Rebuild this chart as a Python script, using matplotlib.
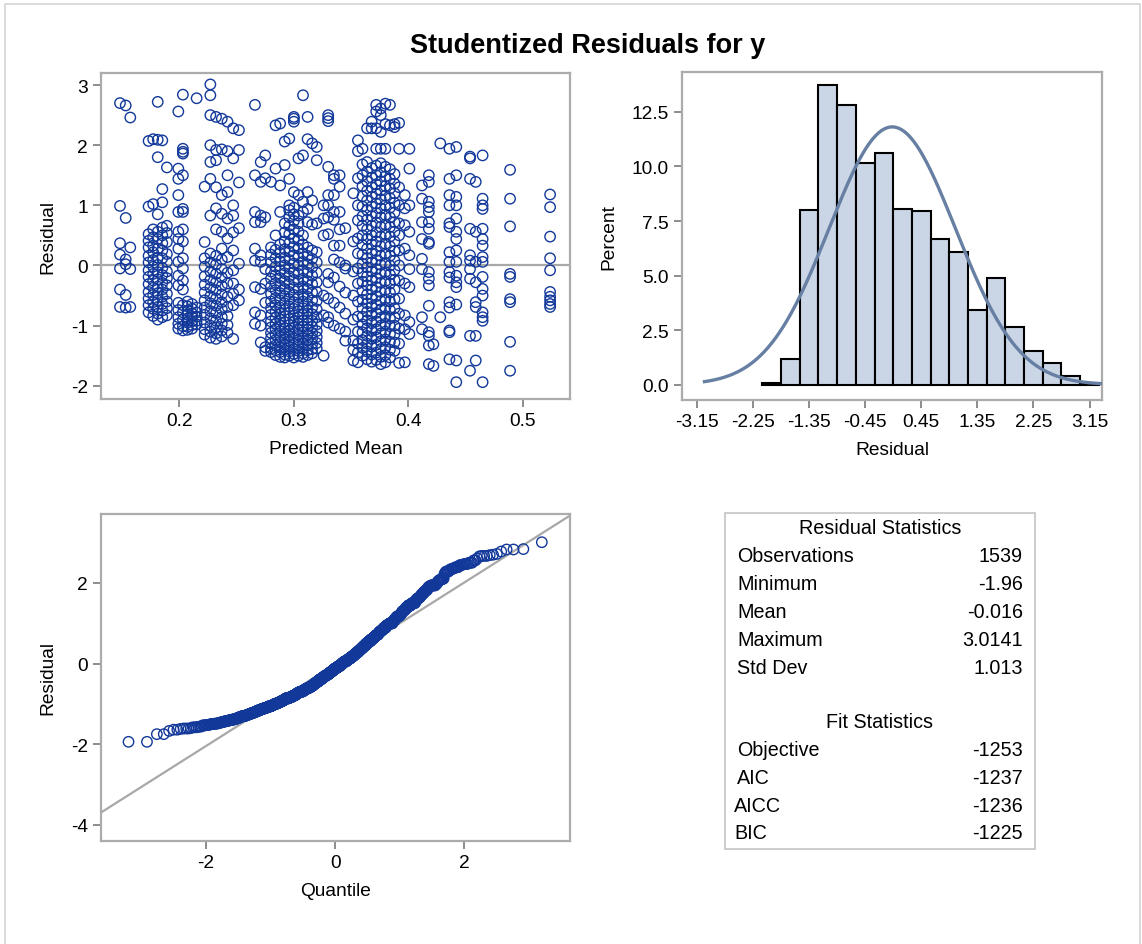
import numpy as np
import matplotlib
matplotlib.use("Agg")
import matplotlib.pyplot as plt
from matplotlib.patches import Rectangle
from matplotlib.lines import Line2D
from statistics import NormalDist

plt.rcParams['font.family'] = ['Liberation Sans', 'DejaVu Sans']
plt.rcParams['axes.unicode_minus'] = False

# --- scatter: predicted mean columns and the studentized residuals read in each
col_x = [0.148, 0.153, 0.157,
         0.173, 0.177, 0.181, 0.185, 0.189,
         0.199, 0.203, 0.207, 0.211, 0.215,
         0.222, 0.227, 0.232, 0.237, 0.242, 0.247, 0.252,
         0.266, 0.271, 0.275,
         0.280, 0.284, 0.288, 0.292, 0.296, 0.300, 0.304, 0.308, 0.312, 0.316, 0.320,
         0.326, 0.330, 0.335, 0.340, 0.345,
         0.352, 0.356, 0.360, 0.364, 0.368, 0.372, 0.376, 0.380, 0.384, 0.388, 0.392,
         0.397, 0.401, 0.412, 0.418, 0.422,
         0.428, 0.436, 0.442, 0.454, 0.459, 0.465, 0.489, 0.524]
col_y = [
    [2.70, 0.99, 0.37, 0.18, -0.05, -0.40, -0.69],
    [2.66, 0.79, 0.10, 0.02, -0.49, -0.70],
    [2.46, 0.30, -0.06, -0.69],
    [2.07, 0.98, 0.52, 0.41, 0.30, 0.16, 0.05, -0.08, -0.19, -0.31, -0.44, -0.55, -0.66, -0.78],
    [2.10, 1.02, 0.60, 0.47, 0.33, 0.22, 0.09, -0.02, -0.14, -0.25, -0.37, -0.49, -0.61, -0.72, -0.84],
    [2.72, 2.09, 1.80, 0.85, 0.56, 0.44, 0.28, 0.13, 0.01, -0.11, -0.23, -0.35, -0.46, -0.58, -0.69, -0.80, -0.90],
    [2.08, 1.27, 1.05, 0.63, 0.50, 0.37, 0.25, 0.12, -0.04, -0.16, -0.29, -0.40, -0.52, -0.64, -0.75, -0.86],
    [1.63, 0.66, 0.54, 0.39, 0.19, 0.06, -0.10, -0.21, -0.33, -0.47, -0.60, -0.71, -0.83],
    [2.56, 1.61, 1.44, 1.17, 0.89, 0.56, 0.44, 0.28, 0.06, -0.17, -0.33, -0.62, -0.74, -0.86, -0.97, -1.05],
    [2.84, 1.94, 1.89, 1.86, 1.50, 0.94, 0.89, 0.60, 0.40, 0.12, -0.05, -0.25, -0.40, -0.66, -0.78, -0.90, -1.01, -1.08],
    [-0.60, -0.68, -0.75, -0.82, -0.88, -0.95, -1.02, -1.07],
    [-0.64, -0.72, -0.80, -0.86, -0.93, -0.99, -1.05],
    [2.78, -0.70, -0.78, -0.85, -0.92, -0.98],
    [1.31, 0.39, 0.12, -0.02, -0.18, -0.32, -0.45, -0.58, -0.70, -0.82, -0.95, -1.06, -1.15],
    [3.01, 2.83, 2.50, 2.00, 1.72, 1.44, 0.83, 0.20, 0.05, -0.10, -0.24, -0.37, -0.51, -0.63, -0.76, -0.88, -1.00, -1.10, -1.20],
    [2.47, 1.92, 1.75, 1.30, 0.95, 0.60, 0.16, 0.02, -0.14, -0.28, -0.41, -0.55, -0.67, -0.79, -0.92, -1.03, -1.13, -1.22],
    [2.44, 1.93, 1.17, 0.86, 0.56, 0.28, 0.10, -0.06, -0.20, -0.34, -0.48, -0.61, -0.73, -0.86, -0.97, -1.08, -1.18],
    [2.39, 1.90, 1.50, 1.22, 0.78, 0.45, 0.14, -0.12, -0.30, -0.52, -0.69, -0.84, -0.99, -1.12],
    [2.28, 1.78, 1.00, 0.83, 0.55, 0.25, -0.08, -0.30, -0.47, -0.66, -1.22],
    [2.25, 1.92, 1.38, 0.62, 0.03, -0.40, -0.58],
    [2.67, 1.50, 0.89, 0.72, 0.28, 0.08, -0.36, -0.78, -0.97],
    [1.72, 1.39, 0.83, 0.72, 0.17, 0.06, -0.39, -0.83, -1.00, -1.28],
    [1.83, 1.45, 0.80, -0.06, -0.30, -0.62, -1.36, -1.42],
    [1.39, 0.30, 0.18, 0.05, -0.10, -0.22, -0.35, -0.47, -0.60, -0.71, -0.82, -0.93, -1.03, -1.12, -1.21, -1.30, -1.38, -1.44],
    [2.33, 1.61, 0.50, 0.26, 0.12, -0.02, -0.16, -0.29, -0.41, -0.54, -0.66, -0.77, -0.87, -0.97, -1.06, -1.15, -1.24, -1.33, -1.41, -1.49],
    [2.36, 1.33, 0.89, 0.35, 0.21, 0.07, -0.08, -0.21, -0.34, -0.46, -0.58, -0.70, -0.80, -0.90, -1.00, -1.09, -1.18, -1.27, -1.36, -1.44, -1.52],
    [2.06, 1.67, 0.70, 0.55, 0.40, 0.27, 0.13, 0.00, -0.13, -0.26, -0.39, -0.51, -0.63, -0.74, -0.84, -0.94, -1.04, -1.13, -1.22, -1.31, -1.40, -1.48, -1.53],
    [2.11, 1.44, 1.00, 0.92, 0.80, 0.66, 0.52, 0.37, 0.23, 0.09, -0.05, -0.18, -0.31, -0.44, -0.56, -0.68, -0.79, -0.89, -0.99, -1.08, -1.17, -1.26, -1.35, -1.43, -1.50],
    [2.47, 2.44, 2.39, 1.22, 0.96, 0.85, 0.74, 0.60, 0.45, 0.31, 0.17, 0.03, -0.11, -0.24, -0.37, -0.49, -0.61, -0.72, -0.83, -0.93, -1.03, -1.12, -1.21, -1.30, -1.39, -1.47, -1.53],
    [1.78, 1.17, 0.83, 0.70, 0.56, 0.42, 0.28, 0.14, 0.00, -0.14, -0.27, -0.40, -0.53, -0.65, -0.76, -0.86, -0.96, -1.06, -1.15, -1.24, -1.33, -1.42, -1.50],
    [2.83, 1.83, 1.06, 0.89, 0.50, 0.35, 0.20, 0.06, -0.08, -0.22, -0.35, -0.48, -0.60, -0.71, -0.82, -0.92, -1.02, -1.11, -1.20, -1.29, -1.38, -1.46, -1.52],
    [2.47, 2.10, 1.22, 0.94, 0.72, 0.30, 0.16, 0.02, -0.12, -0.26, -0.39, -0.52, -0.64, -0.75, -0.86, -0.96, -1.06, -1.15, -1.24, -1.33, -1.41, -1.49],
    [2.03, 1.08, 0.68, 0.25, 0.11, -0.03, -0.17, -0.31, -0.45, -0.58, -0.70, -0.81, -0.92, -1.02, -1.12, -1.21, -1.30, -1.39, -1.46],
    [1.97, 1.75, 0.70, 0.22, 0.05, -0.12, -0.28, -0.44, -0.59, -0.73, -0.86, -0.98, -1.09, -1.19, -1.29, -1.38],
    [1.00, 0.78, 0.50, -0.50, -0.83, -1.50],
    [2.50, 2.45, 2.40, 1.64, 1.17, 1.00, 0.80, 0.52, -0.14, -0.28, -0.55, -0.86, -0.95],
    [1.50, 1.44, 1.17, 0.89, 0.76, 0.33, 0.10, -0.20, -0.62, -1.00],
    [1.50, 1.31, 0.89, 0.60, 0.33, 0.05, -0.35, -0.70, -1.05],
    [0.62, 0.00, -0.05, -0.45, -0.80, -1.10, -1.25],
    [1.20, 0.40, -0.10, -0.50, -0.90, -1.25, -1.40, -1.58],
    [2.08, 1.90, 1.45, 1.00, 0.75, 0.45, 0.20, -0.05, -0.30, -0.60, -0.85, -1.10, -1.30, -1.45, -1.61],
    [1.94, 1.68, 1.50, 1.32, 1.15, 0.98, 0.82, 0.66, 0.50, 0.34, 0.18, 0.03, -0.12, -0.27, -0.42, -0.57, -0.71, -0.85, -0.98, -1.11, -1.24, -1.37, -1.50],
    [2.28, 1.72, 1.56, 1.40, 1.24, 1.08, 0.92, 0.76, 0.60, 0.44, 0.28, 0.12, -0.03, -0.18, -0.33, -0.48, -0.63, -0.77, -0.91, -1.04, -1.17, -1.30, -1.43, -1.56],
    [2.39, 2.28, 1.62, 1.46, 1.30, 1.14, 0.98, 0.82, 0.66, 0.50, 0.35, 0.20, 0.05, -0.10, -0.25, -0.40, -0.55, -0.69, -0.83, -0.96, -1.09, -1.22, -1.35, -1.48, -1.60],
    [2.67, 2.56, 2.28, 1.94, 1.66, 1.50, 1.35, 1.19, 1.03, 0.87, 0.71, 0.55, 0.40, 0.24, 0.09, -0.06, -0.21, -0.36, -0.51, -0.65, -0.79, -0.93, -1.06, -1.19, -1.32, -1.45, -1.57],
    [2.61, 2.50, 2.22, 1.94, 1.70, 1.55, 1.40, 1.25, 1.10, 0.95, 0.80, 0.64, 0.48, 0.32, 0.16, 0.01, -0.14, -0.29, -0.44, -0.59, -0.73, -0.87, -1.00, -1.13, -1.26, -1.39, -1.52, -1.64],
    [2.69, 2.35, 1.94, 1.64, 1.48, 1.32, 1.16, 1.00, 0.84, 0.68, 0.52, 0.36, 0.20, 0.04, -0.11, -0.26, -0.41, -0.56, -0.70, -0.84, -0.97, -1.10, -1.23, -1.36, -1.49, -1.61],
    [2.67, 2.33, 1.60, 1.44, 1.28, 1.12, 0.96, 0.80, 0.64, 0.48, 0.32, 0.16, 0.00, -0.15, -0.30, -0.45, -0.60, -0.74, -0.88, -1.01, -1.14, -1.27, -1.40, -1.53],
    [2.35, 2.30, 1.52, 1.36, 1.20, 1.04, 0.88, 0.72, 0.56, 0.40, 0.24, 0.08, -0.08, -0.24, -0.40, -0.56, -0.71, -0.86, -1.00, -1.14, -1.28, -1.42],
    [2.37, 1.94, 1.30, 1.00, 0.70, 0.50, 0.25, 0.00, -0.25, -0.55, -0.80, -1.05, -1.30, -1.62],
    [1.17, 0.95, 0.67, 0.28, -0.30, -0.83, -1.06, -1.61],
    [1.94, 1.61, 1.00, 0.56, 0.17, -0.06, -0.36, -0.94, -1.14],
    [1.33, 1.11, 0.72, 0.44, 0.11, -0.06, -0.86, -1.06],
    [1.50, 1.39, 1.06, 0.97, 0.89, 0.72, 0.61, 0.39, 0.36, -0.11, -0.22, -0.33, -0.67, -1.11, -1.17, -1.33, -1.64],
    [-1.31, -1.67],
    [2.03, -0.86],
    [1.94, 1.44, 1.17, 1.00, 0.70, 0.64, 0.22, 0.06, -0.11, -0.20, -0.61, -0.70, -1.08, -1.11, -1.56],
    [1.97, 1.50, 1.14, 1.00, 0.78, 0.56, 0.44, 0.25, 0.06, -0.17, -0.28, -0.36, -0.65, -1.58, -1.94],
    [1.81, 1.78, 1.44, 0.61, 0.17, 0.08, -0.06, -0.22, -1.17, -1.75],
    [1.39, 0.56, 0.06, -0.28, -0.61, -0.69, -1.17, -1.58],
    [1.83, 1.11, 1.00, 0.94, 0.61, 0.44, 0.33, 0.14, 0.06, -0.19, -0.39, -0.50, -0.78, -0.86, -0.92, -1.94],
    [1.59, 1.11, 0.65, -0.14, -0.19, -0.56, -0.61, -1.27, -1.75],
    [1.18, 0.97, 0.48, 0.12, -0.08, -0.44, -0.52, -0.58, -0.64, -0.69],
]

# --- histogram of residuals (percent per bin, bin width 0.3)
bin_mid = [-1.95, -1.65, -1.35, -1.05, -0.75, -0.45, -0.15, 0.15, 0.45,
           0.75, 1.05, 1.35, 1.65, 1.95, 2.25, 2.55, 2.85, 3.15]
bin_pct = [0.065, 1.18, 8.01, 13.75, 12.8, 10.15, 10.6, 8.06, 7.95,
           6.68, 6.07, 3.42, 4.89, 2.66, 1.53, 1.01, 0.38, 0.065]
hist_ticks = [-3.15, -2.25, -1.35, -0.45, 0.45, 1.35, 2.25, 3.15]

# --- summary tables
res_labels = ["Observations", "Minimum", "Mean", "Maximum", "Std Dev"]
res_values = ["1539", "-1.96", "-0.016", "3.0141", "1.013"]
fit_labels = ["Objective", "AIC", "AICC", "BIC"]
fit_values = ["-1253", "-1237", "-1236", "-1225"]
res_mean = -0.016
res_sd = 1.013

W, H = 1142, 945
MARK = '#12389a'
FRAME = '#acacac'


def px(x0, y0, x1, y1):
    # pixel box -> figure fraction [left, bottom, width, height]
    return [x0 / W, 1 - y1 / H, (x1 - x0) / W, (y1 - y0) / H]


def style(ax):
    for s in ax.spines.values():
        s.set_color(FRAME)
        s.set_linewidth(1.6)
    ax.tick_params(colors='#8c8c8c', labelcolor='black', labelsize=13.8,
                   length=6, width=1.4, direction='out')


fig = plt.figure(figsize=(W / 100, H / 100), dpi=100)
# light frame round the graph (left, top, right)
fig.add_artist(Line2D([5 / W, 5 / W, 1140 / W, 1140 / W], [0, 1 - 5 / H, 1 - 5 / H, 0],
                      transform=fig.transFigure, color='#d4d4d4', lw=1.2))
fig.text(588 / W, 1 - 53 / H, "Studentized Residuals for y", ha='center', va='baseline',
         fontsize=19.5, fontweight='bold')

# scatter: residual vs predicted mean
xs = np.concatenate([[x] * len(y) for x, y in zip(col_x, col_y)])
ys = np.concatenate(col_y)
ax1 = fig.add_axes(px(101, 74, 570, 400))
ax1.axhline(0, color='#a8a8a8', lw=1.6, zorder=1)
ax1.scatter(xs, ys, s=56, facecolors='none', edgecolors=MARK, linewidths=1.0, zorder=2)
ax1.set_xlim(0.1314, 0.5414)
ax1.set_ylim(-2.22, 3.2)
ax1.set_xticks([0.2, 0.3, 0.4, 0.5])
ax1.set_yticks([-2, -1, 0, 1, 2, 3])
ax1.set_xlabel("Predicted Mean", fontsize=13.8, labelpad=8)
ax1.set_ylabel("Residual", fontsize=13.8, labelpad=10)
style(ax1)

# histogram with normal density
ax2 = fig.add_axes(px(682, 73, 1102, 401))
ax2.bar(bin_mid, bin_pct, width=0.3, color='#cad5e5', edgecolor='black', linewidth=1.5, zorder=2)
curve_x = np.linspace(-3.03, 3.35, 300)
nd = NormalDist(res_mean, res_sd)
curve_y = [nd.pdf(v) * 0.3 * 100 for v in curve_x]
ax2.plot(curve_x, curve_y, color='#667fa2', lw=2.4, zorder=3)
ax2.set_xlim(-3.39, 3.35)
ax2.set_ylim(-0.7, 14.33)
ax2.set_xticks(hist_ticks)
ax2.set_xticklabels([f"{t:.2f}" for t in hist_ticks])
ax2.set_yticks([0, 2.5, 5, 7.5, 10, 12.5])
ax2.set_yticklabels(["0.0", "2.5", "5.0", "7.5", "10.0", "12.5"])
ax2.set_xlabel("Residual", fontsize=13.8, labelpad=8)
ax2.set_ylabel("Percent", fontsize=13.8, labelpad=10)
style(ax2)

# normal quantile plot
srt = np.sort(ys)
n = len(srt)
std_norm = NormalDist()
q = [std_norm.inv_cdf((i + 1 - 0.375) / (n + 0.25)) for i in range(n)]
ax3 = fig.add_axes(px(101, 515, 570, 842))
lx = np.array([-3.63, 3.64])
ax3.plot(lx, res_mean + res_sd * lx, color='#a8a8a8', lw=1.6, zorder=1)
ax3.scatter(q, srt, s=56, facecolors='none', edgecolors=MARK, linewidths=1.0, zorder=2)
ax3.set_xlim(-3.63, 3.64)
ax3.set_ylim(-4.4, 3.71)
ax3.set_xticks([-2, 0, 2])
ax3.set_yticks([-4, -2, 0, 2])
ax3.set_xlabel("Quantile", fontsize=13.8, labelpad=8)
ax3.set_ylabel("Residual", fontsize=13.8, labelpad=10)
style(ax3)

# statistics box
fig.patches.append(Rectangle((725 / W, 1 - 850 / H), 310 / W, 336 / H, transform=fig.transFigure,
                             fill=False, edgecolor='#c4c4c4', lw=1.2))
fs = 14.2
fig.text(880 / W, 1 - 528 / H, "Residual Statistics", ha='center', va='center', fontsize=fs)
for i, (lab, val) in enumerate(zip(res_labels, res_values)):
    yy = 1 - (557 + 28 * i) / H
    fig.text(737 / W, yy, lab, ha='left', va='center', fontsize=fs)
    fig.text(1023 / W, yy, val, ha='right', va='center', fontsize=fs)
fig.text(880 / W, 1 - 722 / H, "Fit Statistics", ha='center', va='center', fontsize=fs)
for i, (lab, val) in enumerate(zip(fit_labels, fit_values)):
    yy = 1 - (751 + 27.5 * i) / H
    xl = 737 if i < 2 else 734
    fig.text(xl / W, yy, lab, ha='left', va='center', fontsize=fs)
    fig.text(1023 / W, yy, val, ha='right', va='center', fontsize=fs)

fig.savefig("out.png", dpi=100)
